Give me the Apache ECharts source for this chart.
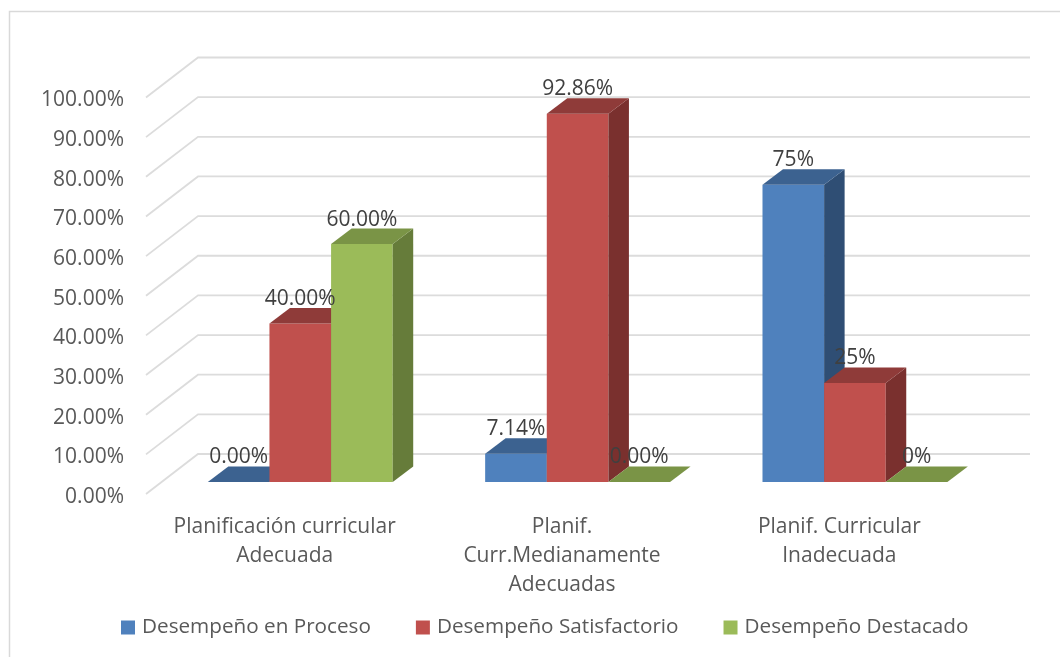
<!DOCTYPE html>
<html><head><meta charset="utf-8">
<style>html,body{margin:0;padding:0;background:#fff}#c{width:1060px;height:657px}</style>
<script src="https://cdn.jsdelivr.net/npm/echarts@6/dist/echarts.min.js"></script>
</head><body><div id="c"></div>
<script>
const categories = ['Planificación curricular\nAdecuada', 'Planif.\nCurr.Medianamente\nAdecuadas', 'Planif. Curricular\nInadecuada'];
const yTicks = [0,10,20,30,40,50,60,70,80,90,100];
const proceso = [0, 7.14, 75];
const satisfactorio = [40, 92.86, 25];
const destacado = [60, 0, 0];
const procesoLabels = ['0.00%', '7.14%', '75%'];
const satisfactorioLabels = ['40.00%', '92.86%', '25%'];
const destacadoLabels = ['60.00%', '0.00%', '0%'];

const FONT = '"Open Sans", sans-serif';
const WALL = [52, -40], PLANE = [15.6, -12], DEPTH = [20.5, -15.5];

function poly(points, fill) {
  return {type: 'polygon', shape: {points}, style: {fill}};
}
function barSeries(name, values, labels, front, top, side, offset) {
  return {
    name, type: 'custom', coordinateSystem: 'cartesian2d', z: 3, silent: true,
    itemStyle: {color: front},
    encode: {x: 0, y: 1},
    data: values.map((v, i) => [i, v]),
    renderItem(params, api) {
      const i = api.value(0), v = api.value(1);
      const band = api.size([1, 0])[0], w = band / 4.5;
      const c = api.coord([i, v]), b = api.coord([i, 0]);
      const x0 = c[0] + PLANE[0] + offset * w - w / 2, x1 = x0 + w;
      const yT = c[1] + PLANE[1], yB = b[1] + PLANE[1];
      const children = [];
      if (yB - yT > 0.5) {
        children.push(poly([[x0, yT], [x1, yT], [x1, yB], [x0, yB]], front));
        children.push(poly([[x1, yT], [x1 + DEPTH[0], yT + DEPTH[1]], [x1 + DEPTH[0], yB + DEPTH[1]], [x1, yB]], side));
      }
      children.push(poly([[x0, yT], [x0 + DEPTH[0], yT + DEPTH[1]], [x1 + DEPTH[0], yT + DEPTH[1]], [x1, yT]], top));
      children.push({type: 'text', z2: 100, style: {
        text: labels[i], x: (x0 + x1) / 2, y: yT + DEPTH[1] - 9,
        align: 'center', verticalAlign: 'middle', fill: '#404040', font: '21px ' + FONT}});
      return {type: 'group', children};
    }
  };
}

const chart = echarts.init(document.getElementById('c'), null, {renderer: 'canvas'});
chart.setOption({
  animation: false,
  backgroundColor: '#fff',
  graphic: [{type: 'polyline', silent: true, shape: {points: [[9.5, 670], [9.5, 11.5], [1070, 11.5]]},
    style: {fill: 'none', stroke: '#D9D9D9', lineWidth: 1.5}}],
  grid: {left: 146, width: 832, top: 97.5, height: 396.5, containLabel: false},
  xAxis: {type: 'category', data: categories,
    axisLine: {show: false}, axisTick: {show: false}, splitLine: {show: false},
    axisLabel: {color: '#595959', fontFamily: FONT, fontSize: 21, lineHeight: 29, margin: 19, interval: 0}},
  yAxis: {type: 'value', min: 0, max: 100, interval: 10,
    axisLine: {show: false}, axisTick: {show: false}, splitLine: {show: false},
    axisLabel: {color: '#595959', fontFamily: FONT, fontSize: 21, margin: 22, verticalAlign: 'top', lineHeight: 6,
      formatter: v => v.toFixed(2) + '%'}},
  legend: {left: 116, top: 612, itemWidth: 14, itemHeight: 14, itemGap: 45, icon: 'rect',
    data: ['Desempeño en Proceso', 'Desempeño Satisfactorio', 'Desempeño Destacado'],
    textStyle: {color: '#595959', fontFamily: FONT, fontSize: 20.7, padding: [0, 0, 0, 2]}},
  series: [
    {name: 'walls', type: 'custom', coordinateSystem: 'cartesian2d', z: 1, silent: true,
      encode: {y: 1}, data: yTicks.map(t => [0, t]),
      renderItem(params, api) {
        const cs = params.coordSys, y = api.coord([0, api.value(1)])[1];
        return {type: 'polyline', shape: {points: [[cs.x, y], [cs.x + WALL[0], y + WALL[1]], [cs.x + cs.width + WALL[0], y + WALL[1]]]},
          style: {stroke: '#DCDCDC', lineWidth: 1.8, fill: null}};
      }},
    barSeries('Desempeño en Proceso', proceso, procesoLabels, '#4F81BD', '#3C6290', '#2F4E74', -1),
    barSeries('Desempeño Satisfactorio', satisfactorio, satisfactorioLabels, '#C0504D', '#8F3B39', '#7A302E', 0),
    barSeries('Desempeño Destacado', destacado, destacadoLabels, '#9BBB59', '#7A9446', '#667C3A', 1)
  ]
});
</script></body></html>
